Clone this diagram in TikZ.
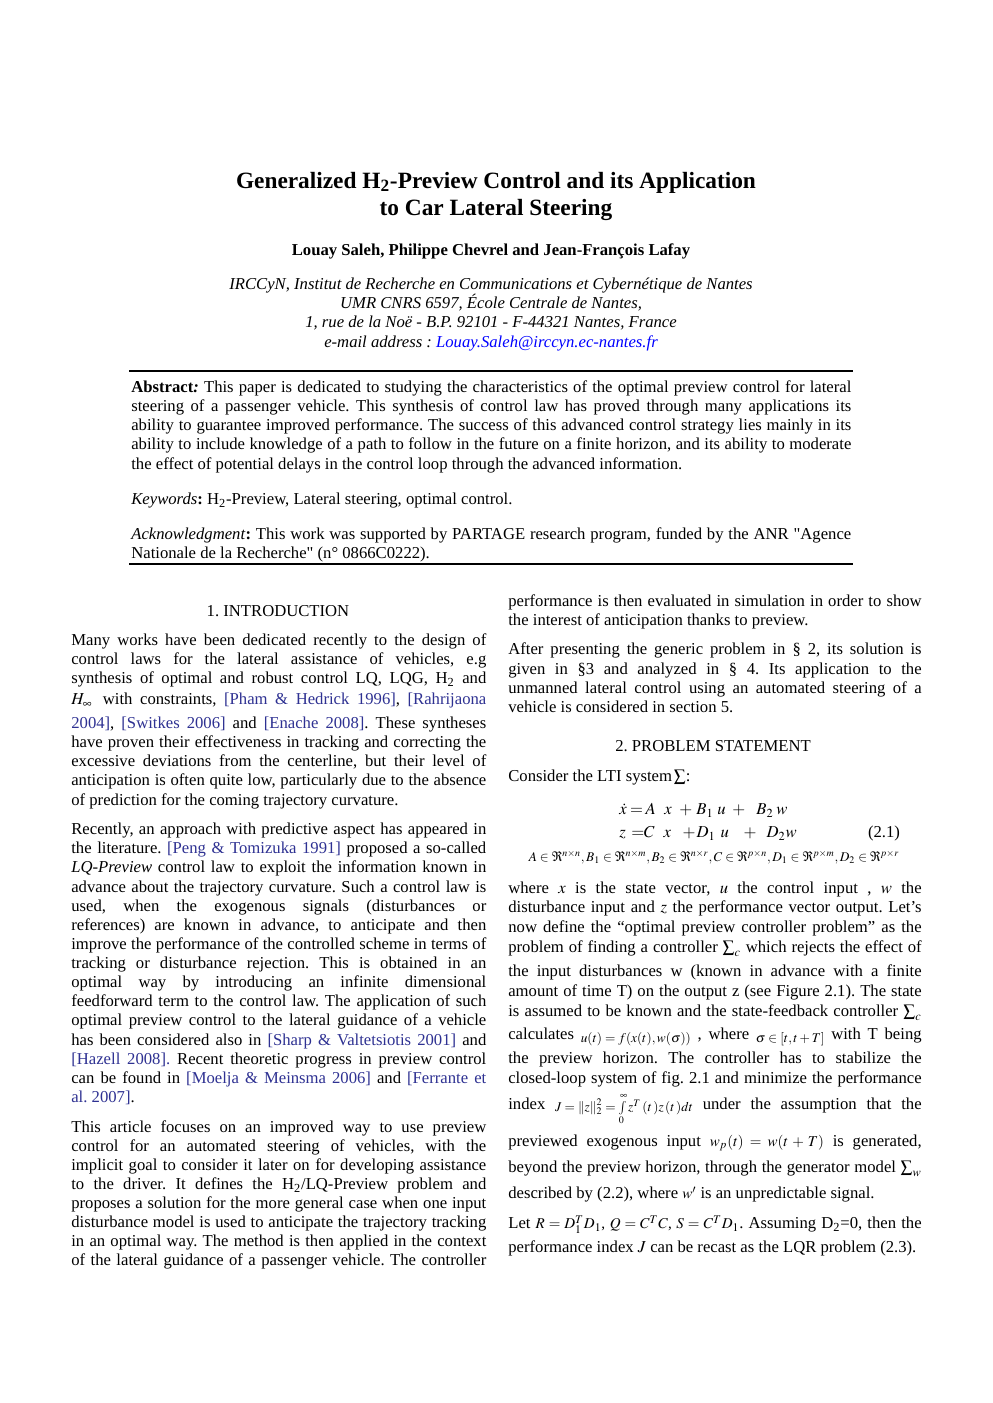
\documentclass[tikz,border=0pt]{standalone}
\usepackage{mathptmx}
\usepackage{fontspec}
\setmainfont{Liberation Serif}[Ligatures=TeXOff]
\usepackage{tikz}
\tikzstyle{txt}=[anchor=base west, inner sep=0pt]
\tikzstyle{ctr}=[anchor=base, inner sep=0pt]
\definecolor{citeblue}{RGB}{46,49,146}
\definecolor{mailblue}{RGB}{0,0,255}
\newcommand{\lcol}[1]{\hbox to 249pt{#1}}
\newcommand{\rcol}[1]{\hbox to 248pt{#1}}
\newcommand{\abswide}[1]{\hbox to 432pt{#1}}
\newcommand{\cit}[1]{\textcolor{citeblue}{#1}}
\newcommand{\cel}[2]{\makebox[#1][l]{$#2$}}
\frenchspacing

\begin{document}
\begin{tikzpicture}[x=0.6pt, y=-0.6pt]
\fill[white] (0,0) rectangle (992,1403);
\useasboundingbox (0,0) rectangle (992,1403);
\draw[line width=1pt] (129, 371) -- (853, 371);
\draw[line width=1.2pt] (129, 564) -- (853, 564);
\begin{scope}[shift={(0,2.5)}]
% title and authors
\draw (496, 186) node [ctr, font=\fontsize{14}{16}\selectfont\bfseries] (t1) {Generalized H\textsubscript{2}-Preview Control and its Application};
\draw (496, 213) node [ctr, font=\fontsize{14}{16}\selectfont\bfseries] (t2) {to Car Lateral Steering};
\draw (491, 253) node [ctr, font=\bfseries] (au) {Louay Saleh, Philippe Chevrel and Jean-François Lafay};
\draw (491, 287) node [ctr, font=\itshape] (af1) {IRCCyN, Institut de Recherche en Communications et Cybernétique de Nantes};
\draw (491, 306) node [ctr, font=\itshape] (af2) {UMR CNRS 6597, École Centrale de Nantes,};
\draw (491, 325) node [ctr, font=\itshape] (af3) {1, rue de la Noë - B.P. 92101 - F-44321 Nantes, France};
\draw (491, 345) node [ctr, font=\itshape] (af4) {e-mail address : \textcolor{mailblue}{Louay.Saleh@irccyn.ec-nantes.fr}};
% abstract block
\draw (131, 390) node [txt] (ab1) {\abswide{\textbf{Abstract}\textbf{\textit{:}} This paper is dedicated to studying the characteristics of the optimal preview control for lateral}};
\draw (131, 409) node [txt] (ab2) {\abswide{steering of a passenger vehicle. This synthesis of control law has proved through many applications its}};
\draw (131, 428) node [txt] (ab3) {\abswide{ability to guarantee improved performance. The success of this advanced control strategy lies mainly in its}};
\draw (131, 447) node [txt] (ab4) {\abswide{ability to include knowledge of a path to follow in the future on a finite horizon, and its ability to moderate}};
\draw (131, 467) node [txt] (ab5) {the effect of potential delays in the control loop through the advanced information.};
\draw (131, 502) node [txt] (kw) {\textit{Keywords}\textbf{:} H\textsubscript{2}-Preview, Lateral steering, optimal control.};
\draw (131, 537) node [txt] (ack1) {\abswide{\textit{Acknowledgment}\textbf{:} This work was supported by PARTAGE research program, funded by the ANR "Agence}};
\draw (131, 556) node [txt] (ack2) {Nationale de la Recherche" (n° 0866C0222).};
% left column
\draw (278, 614) node [ctr] (s1) {1. INTRODUCTION};
\draw (71, 643) node [txt] (l1) {\lcol{Many works have been dedicated recently to the design of}};
\draw (71, 662) node [txt] (l2) {\lcol{control laws for the lateral assistance of vehicles, e.g}};
\draw (71, 681) node [txt] (l3) {\lcol{synthesis of optimal and robust control LQ, LQG, H\textsubscript{2} and}};
\draw (71, 702) node [txt] (l4) {\lcol{$H_{\infty}$\, with constraints, \cit{[Pham \& Hedrick 1996]}, \cit{[Rahrijaona}}};
\draw (71, 726) node [txt] (l5) {\lcol{\cit{2004]}, \cit{[Switkes 2006]} and \cit{[Enache 2008]}. These syntheses}};
\draw (71, 745) node [txt] (l6) {\lcol{have proven their effectiveness in tracking and correcting the}};
\draw (71, 764) node [txt] (l7) {\lcol{excessive deviations from the centerline, but their level of}};
\draw (71, 783) node [txt] (l8) {\lcol{anticipation is often quite low, particularly due to the absence}};
\draw (71, 803) node [txt] (l9) {of prediction for the coming trajectory curvature.};
\draw (71, 832) node [txt] (l10) {\lcol{Recently, an approach with predictive aspect has appeared in}};
\draw (71, 851) node [txt] (l11) {\lcol{the literature. \cit{[Peng \& Tomizuka 1991]} proposed a so-called}};
\draw (71, 870) node [txt] (l12) {\lcol{\textit{LQ-Preview} control law to exploit the information known in}};
\draw (71, 890) node [txt] (l13) {\lcol{advance about the trajectory curvature. Such a control law is}};
\draw (71, 909) node [txt] (l14) {\lcol{used, when the exogenous signals (disturbances or}};
\draw (71, 928) node [txt] (l15) {\lcol{references) are known in advance, to anticipate and then}};
\draw (71, 947) node [txt] (l16) {\lcol{improve the performance of the controlled scheme in terms of}};
\draw (71, 966) node [txt] (l17) {\lcol{tracking or disturbance rejection. This is obtained in an}};
\draw (71, 985) node [txt] (l18) {\lcol{optimal way by introducing an infinite dimensional}};
\draw (71, 1004) node [txt] (l19) {\lcol{feedforward term to the control law. The application of such}};
\draw (71, 1023) node [txt] (l20) {\lcol{optimal preview control to the lateral guidance of a vehicle}};
\draw (71, 1043) node [txt] (l21) {\lcol{has been considered also in \cit{[Sharp \& Valtetsiotis 2001]} and}};
\draw (71, 1062) node [txt] (l22) {\lcol{\cit{[Hazell 2008].} Recent theoretic progress in preview control}};
\draw (71, 1081) node [txt] (l23) {\lcol{can be found in \cit{[Moelja \& Meinsma 2006]} and \cit{[Ferrante et}}};
\draw (71, 1100) node [txt] (l24) {\cit{al. 2007]}.};
\draw (71, 1130) node [txt] (l25) {\lcol{This article focuses on an improved way to use preview}};
\draw (71, 1149) node [txt] (l26) {\lcol{control for an automated steering of vehicles, with the}};
\draw (71, 1168) node [txt] (l27) {\lcol{implicit goal to consider it later on for developing assistance}};
\draw (71, 1187) node [txt] (l28) {\lcol{to the driver. It defines the H\textsubscript{2}/LQ-Preview problem and}};
\draw (71, 1206) node [txt] (l29) {\lcol{proposes a solution for the more general case when one input}};
\draw (71, 1225) node [txt] (l30) {\lcol{disturbance model is used to anticipate the trajectory tracking}};
\draw (71, 1244) node [txt] (l31) {\lcol{in an optimal way. The method is then applied in the context}};
\draw (71, 1263) node [txt] (l32) {\lcol{of the lateral guidance of a passenger vehicle. The controller}};
% right column
\draw (508, 604) node [txt] (r1) {\rcol{performance is then evaluated in simulation in order to show}};
\draw (508, 623) node [txt] (r2) {the interest of anticipation thanks to preview.};
\draw (508, 652) node [txt] (r3) {\rcol{After presenting the generic problem in § 2, its solution is}};
\draw (508, 672) node [txt] (r4) {\rcol{given in §3 and analyzed in § 4. Its application to the}};
\draw (508, 691) node [txt] (r5) {\rcol{unmanned lateral control using an automated steering of a}};
\draw (508, 710) node [txt] (r6) {vehicle is considered in section 5.};
\draw (713, 749) node [ctr] (s2) {2. PROBLEM STATEMENT};
\draw (508, 779) node [txt] (r7) {Consider the LTI system$\,\sum$:};
\draw (619, 812) node [txt] (e1) {\cel{6.4pt}{\dot{x}}\cel{9.4pt}{=}\cel{11.2pt}{A}\cel{9pt}{x}\cel{10.2pt}{+}\cel{12.6pt}{B_1}\cel{9pt}{u}\cel{14.4pt}{+}\cel{12pt}{B_2}\cel{6pt}{w}};
\draw (619, 835) node [txt] (e2) {\cel{7.2pt}{z}\cel{7.6pt}{=}\cel{11.8pt}{C}\cel{11.4pt}{x}\cel{8.4pt}{+}\cel{14.4pt}{D_1}\cel{13.8pt}{u}\cel{13.8pt}{+}\cel{11.4pt}{D_2}\cel{6pt}{w}};
\draw (884, 835) node [ctr] (e21) {(2.1)};
\draw (714, 859) node [ctr, font=\footnotesize] (e3) {$A\in\Re^{n\times n}, B_1\in\Re^{n\times m}, B_2\in\Re^{n\times r}, C\in\Re^{p\times n}, D_1\in\Re^{p\times m}, D_2\in\Re^{p\times r}$};
\draw (508, 891) node [txt] (r8) {\rcol{where $x$ is the state vector, $u$ the control input , $w$ the}};
\draw (508, 910) node [txt] (r9) {\rcol{disturbance input and $z$ the performance vector output. Let’s}};
\draw (508, 930) node [txt] (r10) {\rcol{now define the “optimal preview controller problem” as the}};
\draw (508, 950) node [txt] (r11) {\rcol{problem of finding a controller $\sum_c$ which rejects the effect of}};
\draw (508, 974) node [txt] (r12) {\rcol{the input disturbances w (known in advance with a finite}};
\draw (508, 994) node [txt] (r13) {\rcol{amount of time T) on the output z (see Figure 2.1). The state}};
\draw (508, 1014) node [txt] (r14) {\rcol{is assumed to be known and the state-feedback controller $\sum_c$}};
\draw (508, 1037) node [txt] (r15) {\rcol{calculates \raisebox{-2pt}{\footnotesize$u(t)=f(x(t),w(\sigma))$} , where \raisebox{-2pt}{\footnotesize$\sigma\in\left[t,t+T\right]$} with T being}};
\draw (508, 1061) node [txt] (r16) {\rcol{the preview horizon. The controller has to stabilize the}};
\draw (508, 1081) node [txt] (r17) {\rcol{closed-loop system of fig. 2.1 and minimize the performance}};
\draw (508, 1107) node [txt] (r18) {\rcol{index \raisebox{-1pt}{\footnotesize$J=\left\|z\right\|_2^2=\int\limits_0^{\infty} z^T\,(t\,)z\,(t\,)dt$} under the assumption that the}};
\draw (508, 1144) node [txt] (r19) {\rcol{previewed exogenous input {\small$w_p(t) = w(t+T)$} is generated,}};
\draw (508, 1170) node [txt] (r20) {\rcol{beyond the preview horizon, through the generator model $\sum_w$}};
\draw (508, 1196) node [txt] (r21) {described by (2.2), where {\small$w'$} is an unpredictable signal.};
\draw (508, 1226) node [txt] (r22) {\rcol{Let {\small$R=D_1^TD_1$, $Q=C^TC$, $S=C^TD_1$}. Assuming D\textsubscript{2}=0, then the}};
\draw (508, 1250) node [txt] (r23) {performance index $J$ can be recast as the LQR problem (2.3).};
\end{scope}
\end{tikzpicture}
\end{document}
